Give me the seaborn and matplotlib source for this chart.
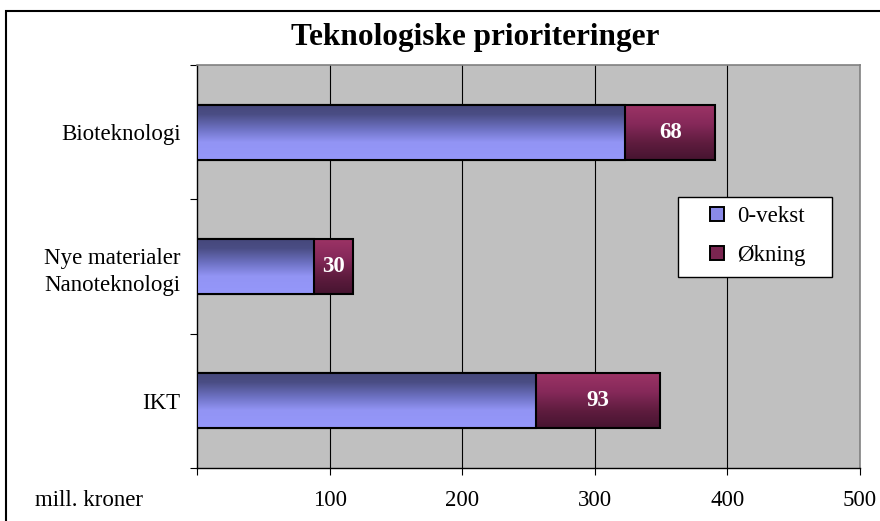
import numpy as np
import pandas as pd
import matplotlib
matplotlib.use("Agg")
import matplotlib.pyplot as plt
from matplotlib.patches import Patch, Rectangle
from matplotlib.colors import LinearSegmentedColormap
import seaborn as sns

# ---- data ----
categories = ["Bioteknologi", "Nye materialer\nNanoteknologi", "IKT"]
base_values = [323, 88, 256]       # 0-vekst
increase_values = [68, 30, 93]     # Økning
series_names = ["0-vekst", "Økning"]
x_ticks = [0, 100, 200, 300, 400, 500]
x_ticklabels = ["", "100", "200", "300", "400", "500"]
title = "Teknologiske prioriteringer"
unit_label = "mill. kroner"

df = pd.DataFrame({
    "kategori": categories,
    "base": base_values,
    "okning": increase_values,
})
df["total"] = df["base"] + df["okning"]

sns.set_theme(style="white")
plt.rcParams["font.family"] = ["Liberation Serif", "DejaVu Serif"]
for k in ["text.color", "axes.labelcolor", "xtick.color", "ytick.color"]:
    plt.rcParams[k] = "black"

W, H = 880, 521
fig = plt.figure(figsize=(W / 100, H / 100), dpi=100)
L, R, T, B = 197, 860, 65, 468
ax = fig.add_axes([L / W, 1 - B / H, (R - L) / W, (B - T) / H])
ax.set_facecolor("#C0C0C0")

bar_w = 0.41
n0 = len(ax.patches)
sns.barplot(data=df, x="total", y="kategori", order=categories, orient="h",
            color="#7A2550", width=bar_w, edgecolor="black", linewidth=1.5,
            saturation=1, ax=ax, zorder=3)
n1 = len(ax.patches)
sns.barplot(data=df, x="base", y="kategori", order=categories, orient="h",
            color="#8A8AE8", width=bar_w, edgecolor="black", linewidth=1.5,
            saturation=1, ax=ax, zorder=5)
n2 = len(ax.patches)

blue_cmap = LinearSegmentedColormap.from_list(
    "b", [(0.0, "#45477A"), (0.18, "#4A4D84"), (0.45, "#6E72C4"),
          (0.68, "#9294F4"), (1.0, "#9597FA")])
purple_cmap = LinearSegmentedColormap.from_list(
    "p", [(0.0, "#9D3466"), (0.35, "#86295A"), (0.7, "#5E1C3E"),
          (1.0, "#461430")])
grad = np.linspace(0, 1, 256).reshape(-1, 1)

def fill_gradient(patches, cmap, z):
    for p in patches:
        x0, y0 = p.get_x(), p.get_y()
        w, h = p.get_width(), p.get_height()
        p.set_facecolor("none")
        p.set_zorder(z + 1)
        ax.imshow(grad, cmap=cmap, aspect="auto", origin="upper",
                  extent=(x0, x0 + w, y0 + h, y0), zorder=z,
                  interpolation="bilinear")

fill_gradient(ax.patches[n0:n1], purple_cmap, 2)
fill_gradient(ax.patches[n1:n2], blue_cmap, 4)

# value labels for increase segments
for i, (b, inc) in enumerate(zip(base_values, increase_values)):
    ax.text(b + inc / 2, i, str(inc), ha="center", va="center",
            color="white", fontsize=16.5, fontweight="bold", zorder=10)

ax.set_xlim(0, 500)
ax.set_ylim(2.5, -0.5)
ax.set_xticks(x_ticks)
ax.set_xticklabels(x_ticklabels)
ax.set_xlabel("")
ax.set_ylabel("")
ax.set_yticks(range(len(categories)))
ax.set_yticklabels(categories)
ax.set_yticks([-0.5, 0.5, 1.5, 2.5], minor=True)
for t in ax.get_yticklabels():
    t.set_linespacing(1.35)

FS = 16.5
ax.tick_params(axis="x", which="major", direction="out", length=5, width=0.8,
               color="black", pad=11, labelsize=FS, bottom=True)
ax.tick_params(axis="y", which="major", length=0, pad=12, labelsize=FS)
ax.tick_params(axis="y", which="minor", direction="out", length=5, width=0.8,
               color="black", left=True)

ax.grid(False)
for x in x_ticks[1:-1]:
    ax.axvline(x, color="black", lw=0.8, zorder=1)

for s in ["left", "bottom"]:
    ax.spines[s].set_color("black")
    ax.spines[s].set_linewidth(1.0)
for s in ["top", "right"]:
    ax.spines[s].set_color("#808080")
    ax.spines[s].set_linewidth(1.2)

fig.text(475 / W, 1 - 38 / H, title, ha="center", va="center",
         fontsize=22.5, fontweight="bold", color="black")
fig.text(35 / W, 1 - 500 / H, unit_label, ha="left", va="center", fontsize=FS)

# outer chart frame
fig.add_artist(Rectangle((6 / W, -0.2), 1.2, 1.2 - 11 / H,
                         transform=fig.transFigure, fill=False,
                         edgecolor="black", lw=1.5, clip_on=False))

# legend box
fig.add_artist(Rectangle((678 / W, 1 - 277 / H), (832 - 678) / W, 80 / H,
                         transform=fig.transFigure, facecolor="white",
                         edgecolor="black", lw=1.0, zorder=15))

handles = [Patch(facecolor="#8A8AE8", edgecolor="black", lw=1.4),
           Patch(facecolor="#7A2550", edgecolor="black", lw=1.4)]
leg = fig.legend(handles, series_names, loc="center left",
                 bbox_to_anchor=(710 / W, 1 - 236 / H),
                 bbox_transform=fig.transFigure, frameon=False,
                 fontsize=FS, handlelength=0.6, handleheight=0.6,
                 handletextpad=0.6, labelspacing=0.78, borderpad=0.0,
                 borderaxespad=0)
leg.set_zorder(20)

fig.savefig("out.png", dpi=100)
